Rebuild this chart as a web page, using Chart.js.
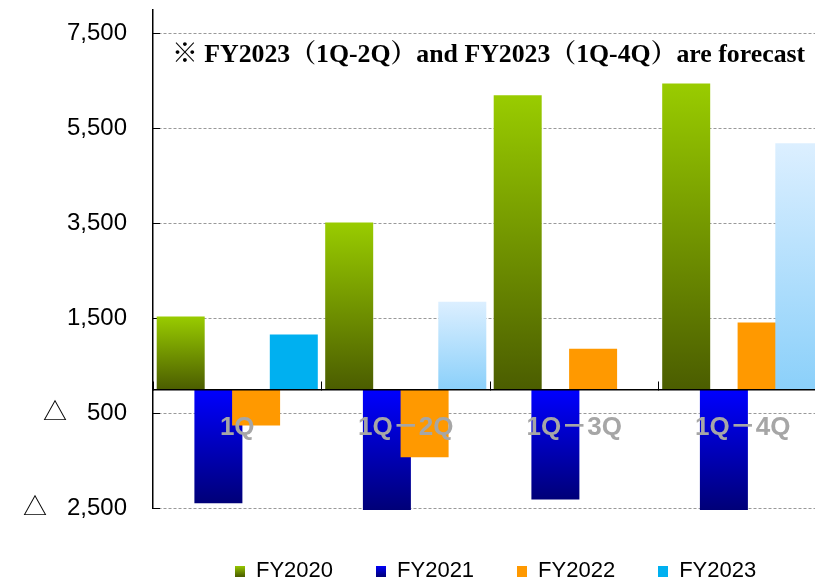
<!DOCTYPE html>
<html>
<head>
<meta charset="utf-8">
<script src="https://cdn.jsdelivr.net/npm/chart.js@4"></script>
<style>
  html, body { margin: 0; padding: 0; background: #fff; overflow: hidden; width: 815px; height: 580px; }
  canvas { display: block; }
</style>
</head>
<body>
<canvas id="chart" width="830" height="580"></canvas>
<script>
// Cumulative results per period (negative values shown with △)
const categories = ['1Q', '1Q－2Q', '1Q－3Q', '1Q－4Q'];
const seriesNames = ['FY2020', 'FY2021', 'FY2022', 'FY2023'];
const fy2020 = [1540, 3520, 6200, 6450];
const fy2021 = [-2400, -2540, -2320, -2540];
const fy2022 = [-760, -1430, 860, 1410];
const fy2023 = [1160, 1850, null, 5190];
const fy2023Forecast = [false, true, false, true];
const yTickValues = [-2500, -500, 1500, 3500, 5500, 7500];
const noteText = '※ FY2023（1Q-2Q）and FY2023（1Q-4Q）are forecast';

const SANS = '"Liberation Sans", "Noto Sans CJK JP", "DejaVu Sans", sans-serif';

// Vertical gradient spanning one bar, from its upper edge to its lower edge
function barGradient(context, topColor, bottomColor) {
  const chart = context.chart;
  const y = chart.scales && chart.scales.y;
  if (!chart.chartArea || !y || context.type !== 'data') return topColor;
  const v = context.parsed ? context.parsed.y : context.raw;
  if (v === null || v === undefined || isNaN(v)) return topColor;
  const yTop = y.getPixelForValue(Math.max(v, 0));
  const yBot = y.getPixelForValue(Math.min(v, 0));
  if (!isFinite(yTop) || !isFinite(yBot) || yTop === yBot) return topColor;
  const g = chart.ctx.createLinearGradient(0, yTop, 0, yBot);
  g.addColorStop(0, topColor);
  g.addColorStop(1, bottomColor);
  return g;
}

// Small legend swatches
function makeSwatch(topColor, bottomColor) {
  const c = document.createElement('canvas');
  c.width = 10; c.height = 11;
  const g = c.getContext('2d');
  const grad = g.createLinearGradient(0, 0, 0, 11);
  grad.addColorStop(0, topColor);
  grad.addColorStop(1, bottomColor);
  g.fillStyle = grad;
  g.fillRect(0, 0, 10, 11);
  return c;
}
const swatches = [
  makeSwatch('#99cc00', '#4b5d00'),
  makeSwatch('#0000ff', '#000078'),
  makeSwatch('#ff9900', '#ff9900'),
  makeSwatch('#00b0f0', '#00b0f0')
];

// Draw datasets in index order so later series sit on top of earlier ones
const indexOrderDraw = {
  id: 'indexOrderDraw',
  beforeDatasetsDraw(chart) {
    if (typeof chart._drawDataset !== 'function') return;
    chart.getSortedVisibleDatasetMetas().forEach(m => chart._drawDataset(m));
    return false;
  }
};

// Legend row placed under the plot
const legendPlacement = {
  id: 'legendPlacement',
  afterLayout(chart) {
    const lg = chart.legend;
    if (!lg) return;
    lg.left = 192;
    lg.right = 830;
    lg.top = 517;
    lg.bottom = 640;
  }
};

// Forecast note inside the plot area
const noteLabel = {
  id: 'noteLabel',
  afterDraw(chart) {
    const { ctx, chartArea } = chart;
    ctx.save();
    ctx.font = 'bold 25.8px "Liberation Serif", "Noto Serif CJK JP", "Noto Sans CJK JP", serif';
    ctx.fillStyle = '#000';
    ctx.textBaseline = 'alphabetic';
    ctx.textAlign = 'left';
    ctx.fillText(noteText, chartArea.left + 19, chartArea.top + 52);
    ctx.restore();
  }
};

const barCommon = {
  barPercentage: 1.273,
  categoryPercentage: 0.895,
  borderWidth: 0,
  clip: false
};

new Chart(document.getElementById('chart'), {
  type: 'bar',
  data: {
    labels: categories,
    datasets: [
      Object.assign({
        label: seriesNames[0],
        data: fy2020,
        backgroundColor: ctx => barGradient(ctx, '#99cc00', '#4b5d00')
      }, barCommon),
      Object.assign({
        label: seriesNames[1],
        data: fy2021,
        backgroundColor: ctx => barGradient(ctx, '#0000ff', '#000078')
      }, barCommon),
      Object.assign({
        label: seriesNames[2],
        data: fy2022,
        backgroundColor: '#ff9900'
      }, barCommon),
      Object.assign({
        label: seriesNames[3],
        data: fy2023,
        backgroundColor: ctx => (ctx.type === 'data' && fy2023Forecast[ctx.dataIndex])
          ? barGradient(ctx, '#dcefff', '#8bd0fa')
          : '#00b0f0'
      }, barCommon)
    ]
  },
  options: {
    responsive: false,
    animation: false,
    events: [],
    layout: { padding: { top: 10, left: 0, right: 3, bottom: 0 } },
    scales: {
      x: {
        position: { y: 0 },
        offset: true,
        z: 1,
        grid: {
          display: true,
          drawOnChartArea: false,
          drawTicks: true,
          tickLength: -9,
          tickColor: '#000',
          tickWidth: 1,
          z: 1
        },
        border: { display: true, color: '#000', width: 1.5, z: 1 },
        ticks: {
          font: { family: SANS, size: 26, weight: 'bold' },
          color: '#a6a6a6',
          padding: 32,
          maxRotation: 0,
          autoSkip: false,
          z: 1
        }
      },
      y: {
        min: -2500,
        max: 8000,
        afterBuildTicks: scale => { scale.ticks = yTickValues.map(v => ({ value: v })); },
        afterFit: scale => {
          scale.width = 153;
          scale.paddingTop = 0;
          scale.paddingBottom = 0;
        },
        grid: {
          color: '#999',
          lineWidth: 1,
          borderDash: [3, 2],
          drawTicks: true,
          tickLength: -7,
          tickColor: '#000',
          tickWidth: 1,
          tickBorderDash: []
        },
        border: { display: true, color: '#000', width: 1.5, dash: [3, 2] },
        ticks: {
          font: { family: SANS, size: 24 },
          color: '#000',
          padding: 33,
          callback: v => v < 0
            ? '△   ' + Math.abs(v).toLocaleString('en-US')
            : v.toLocaleString('en-US')
        }
      }
    },
    plugins: {
      tooltip: { enabled: false },
      legend: {
        position: 'bottom',
        align: 'start',
        maxHeight: 72,
        labels: {
          usePointStyle: true,
          boxWidth: 10,
          boxHeight: 11,
          padding: 43,
          color: '#000',
          font: { family: SANS, size: 22 },
          generateLabels: chart => {
            const items = Chart.defaults.plugins.legend.labels.generateLabels(chart);
            items.forEach(it => { it.pointStyle = swatches[it.datasetIndex]; });
            return items;
          }
        }
      }
    }
  },
  plugins: [indexOrderDraw, legendPlacement, noteLabel]
});
</script>
</body>
</html>
